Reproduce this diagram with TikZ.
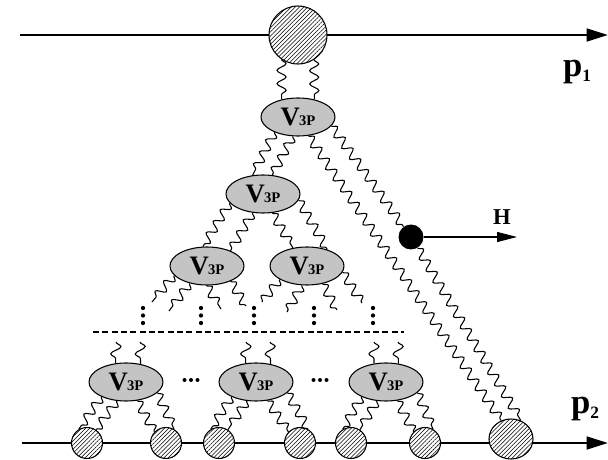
\documentclass[tikz,border=0pt]{standalone}
\usepackage{fontspec}
\setmainfont{Liberation Serif}
\usetikzlibrary{decorations.pathmorphing,patterns.meta,arrows.meta,shapes.geometric}
\definecolor{vgray}{RGB}{196,196,196}
\newcommand{\vtplab}{{\fontsize{20}{20}\selectfont\bfseries V}\kern-0.5pt{\fontsize{11}{11}\selectfont\bfseries 3P}}
\tikzset{
  vtp/.style={ellipse, draw, line width=0.8pt, fill=vgray, minimum width=55.5pt, minimum height=28.5pt, inner sep=0pt},
  hblob/.style={circle, draw, line width=0.8pt, fill=white, inner sep=0pt,
    postaction={pattern={Lines[angle=45,distance=2.2pt,line width=0.4pt]}}},
  gluon/.style={decorate, decoration={snake, segment length=10pt, amplitude=3.4pt}, line width=0.8pt},
  sgluon/.style={decorate, decoration={snake, segment length=11pt, amplitude=3.8pt}, line width=0.8pt},
  pline/.style={line width=2pt, -{Triangle[length=16pt,width=9.5pt]}},
  lab/.style={inner sep=0pt, font=\bfseries}
}
\begin{document}
\begin{tikzpicture}[x=0.75pt,y=-0.75pt]
\useasboundingbox (0,0) rectangle (608,460);
% external lines
\coordinate (a1) at (20,35);
\coordinate (a2) at (608,35);
\coordinate (c1) at (22,443);
\coordinate (c2) at (608,443);
\draw[pline] (a1) -- (a2);
\draw[pline] (c1) -- (c2);
% blobs
\node[hblob, minimum size=43.5pt] (blob) at (298,35) {};
\node[hblob, minimum size=23.25pt] (b1) at (87,443) {};
\node[hblob, minimum size=23.25pt] (b2) at (166,443) {};
\node[hblob, minimum size=23.25pt] (b3) at (219,443) {};
\node[hblob, minimum size=23.25pt] (b4) at (300,443) {};
\node[hblob, minimum size=23.25pt] (b5) at (351,443) {};
\node[hblob, minimum size=23.25pt] (b6) at (425,443) {};
\node[hblob, ellipse, minimum width=33pt, minimum height=30pt] (B) at (511,439) {};
% vertices
\node[vtp] (v1) at (298,117) {\vtplab};
\node[vtp] (v2) at (263,194) {\vtplab};
\node[vtp] (v3) at (207,266) {\vtplab};
\node[vtp] (v4) at (307,266) {\vtplab};
\node[vtp] (v5) at (126,382) {\vtplab};
\node[vtp] (v6) at (256,382) {\vtplab};
\node[vtp] (v7) at (386,382) {\vtplab};
% Higgs
\node[circle, fill=black, minimum size=18.75pt, inner sep=0pt] (H) at (411,237) {};
\coordinate (Hend) at (517,237);
\draw[line width=0.8pt, -{Triangle[length=15pt,width=7.5pt]}] (H) -- (Hend);
\node[lab, font=\bfseries\fontsize{17}{17}\selectfont] (Hl) at (502,217) {H};
% labels
\node[lab] (p1) at (577,72) {{\fontsize{26}{26}\selectfont p}\raisebox{-4pt}{\fontsize{13}{13}\selectfont 1}};
\node[lab] (p2) at (585,409) {{\fontsize{26}{26}\selectfont p}\raisebox{-4pt}{\fontsize{13}{13}\selectfont 2}};
% gluons
\draw[gluon] (blob.236.5) -- (v1.133);
\draw[gluon] (blob.303.5) -- (v1.47);
\draw[gluon] (v1.213) -- (v2.119);
\draw[gluon] (v1.255) -- (v2.64);
\draw[gluon] (v1.299) -- (B.118);
\draw[gluon] (v1.345) -- (H);
\draw[gluon] (H) -- (B.62);
\draw[gluon] (v2.195) -- (v3.102);
\draw[gluon] (v2.241) -- (v3.33);
\draw[gluon] (v2.296) -- (v4.128);
\draw[gluon] (v2.350) -- (v4.39);
% third row open gluons
\coordinate (e1) at (152,302);
\coordinate (e2) at (169,311);
\coordinate (e3) at (221,309);
\coordinate (e4) at (246,306);
\coordinate (e5) at (262,302);
\coordinate (e6) at (287,312);
\coordinate (e7) at (337,310);
\coordinate (e8) at (362,303);
\draw[gluon] (v3.196) -- (e1);
\draw[gluon] (v3.225) -- (e2);
\draw[gluon] (v3.268) -- (e3);
\draw[gluon] (v3.327) -- (e4);
\draw[gluon] (v4.206) -- (e5);
\draw[gluon] (v4.255) -- (e6);
\draw[gluon] (v4.311) -- (e7);
\draw[gluon] (v4.350) -- (e8);
% vertical dots
\foreach \x in {143,201,254,314,373}{
  \foreach \y in {308,315.5,323}{ \fill (\x,\y) circle (1.6pt); }
}
% dashed cut
\coordinate (d1) at (93,332);
\coordinate (d2) at (404,332);
\draw[line width=0.8pt, dash pattern=on 4.5pt off 2.5pt] (d1) -- (d2);
% bottom row incoming gluons
\coordinate (u5a) at (116,342);
\coordinate (u5b) at (140,342);
\coordinate (u6a) at (246,342);
\coordinate (u6b) at (270,342);
\coordinate (u7a) at (374,342);
\coordinate (u7b) at (398,342);
\draw[sgluon] (u5a) -- (v5.119);
\draw[sgluon] (u5b) -- (v5.51.5);
\draw[sgluon] (u6a) -- (v6.119);
\draw[sgluon] (u6b) -- (v6.51.5);
\draw[sgluon] (u7a) -- (v7.123.7);
\draw[sgluon] (u7b) -- (v7.56.3);
% horizontal dots
\foreach \x in {184.5,191,197.5,313.5,320,326.5}{ \fill (\x,380) circle (1.5pt); }
% bottom gluons
\draw[gluon] (v5.211) -- (b1.121);
\draw[gluon] (v5.244) -- (b1.56);
\draw[gluon] (v5.301) -- (b2.136);
\draw[gluon] (v5.341) -- (b2.60);
\draw[gluon] (v6.211) -- (b3.121);
\draw[gluon] (v6.244) -- (b3.56);
\draw[gluon] (v6.301) -- (b4.136);
\draw[gluon] (v6.341) -- (b4.60);
\draw[gluon] (v7.211) -- (b5.121);
\draw[gluon] (v7.244) -- (b5.56);
\draw[gluon] (v7.301) -- (b6.136);
\draw[gluon] (v7.341) -- (b6.60);
\end{tikzpicture}
\end{document}
